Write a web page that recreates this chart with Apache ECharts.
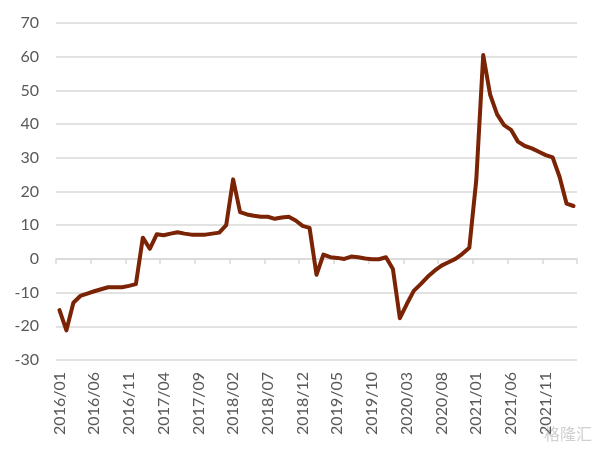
<!DOCTYPE html>
<html>
<head>
<meta charset="utf-8">
<script src="https://cdn.jsdelivr.net/npm/echarts@6/dist/echarts.min.js"></script>
<style>
html,body{margin:0;padding:0;background:#fff;}
#main{width:600px;height:450px;}
</style>
</head>
<body>
<div id="main"></div>
<script>
// Monthly categories 2016/01 .. 2022/03
const categories = [
  "2016/01","2016/02","2016/03","2016/04","2016/05","2016/06","2016/07","2016/08","2016/09","2016/10","2016/11","2016/12",
  "2017/01","2017/02","2017/03","2017/04","2017/05","2017/06","2017/07","2017/08","2017/09","2017/10","2017/11","2017/12",
  "2018/01","2018/02","2018/03","2018/04","2018/05","2018/06","2018/07","2018/08","2018/09","2018/10","2018/11","2018/12",
  "2019/01","2019/02","2019/03","2019/04","2019/05","2019/06","2019/07","2019/08","2019/09","2019/10","2019/11","2019/12",
  "2020/01","2020/02","2020/03","2020/04","2020/05","2020/06","2020/07","2020/08","2020/09","2020/10","2020/11","2020/12",
  "2021/01","2021/02","2021/03","2021/04","2021/05","2021/06","2021/07","2021/08","2021/09","2021/10","2021/11","2021/12",
  "2022/01","2022/02","2022/03"
];
const values = [
  -15.2, -21.2, -13.0, -11.0, -10.3, -9.6, -9.0, -8.4, -8.4, -8.4, -8.0, -7.5,
  6.3, 3.0, 7.3, 7.0, 7.5, 7.9, 7.5, 7.2, 7.2, 7.2, 7.5, 7.8,
  10.0, 23.6, 13.9, 13.2, 12.8, 12.5, 12.5, 11.9, 12.3, 12.5, 11.4, 9.8,
  9.2, -4.7, 1.3, 0.5, 0.3, 0.0, 0.7, 0.5, 0.1, -0.1, -0.1, 0.5,
  -3.0, -17.6, -13.4, -9.5, -7.5, -5.3, -3.5, -2.0, -1.0, 0.0, 1.5, 3.3,
  23.4, 60.5, 48.7, 42.9, 39.7, 38.3, 34.8, 33.5, 32.8, 31.8, 30.8, 30.1,
  24.3, 16.4, 15.7
];
const yMin = -30, yMax = 70, yStep = 10;
const watermark = "格隆汇";

const chart = echarts.init(document.getElementById('main'), null, {renderer: 'canvas'});
const labelFont = 'Lato, "Open Sans", sans-serif';
chart.setOption({
  animation: false,
  backgroundColor: '#ffffff',
  grid: {left: 56, right: 23, top: 23, bottom: 90, containLabel: false},
  xAxis: [
    {
      type: 'category',
      data: categories,
      boundaryGap: true,
      axisLine: {show: true, onZero: true, lineStyle: {color: '#d9d9d9', width: 1.5}},
      axisTick: {show: true, interval: 4, length: 5, lineStyle: {color: '#d9d9d9', width: 1.5}},
      axisLabel: {show: false},
      splitLine: {show: false}
    },
    {
      type: 'category',
      data: categories,
      position: 'bottom',
      boundaryGap: true,
      axisLine: {show: false, onZero: false},
      axisTick: {show: false},
      axisLabel: {
        show: true, interval: 4, rotate: 90, margin: 12,
        fontSize: 16, color: '#595959', fontFamily: labelFont
      },
      splitLine: {show: false}
    }
  ],
  yAxis: {
    type: 'value',
    min: yMin, max: yMax, interval: yStep,
    axisLine: {show: false},
    axisTick: {show: false},
    axisLabel: {fontSize: 16, color: '#595959', margin: 17, fontFamily: labelFont},
    splitLine: {show: true, lineStyle: {color: '#d9d9d9', width: 1.5}}
  },
  series: [{
    type: 'line',
    xAxisIndex: 0,
    data: values,
    symbol: 'none',
    smooth: false,
    lineStyle: {color: '#7b2305', width: 4, join: 'round', cap: 'round'}
  }],
  graphic: [{
    type: 'text',
    right: 8, bottom: 8,
    style: {text: watermark, fill: '#d0d0d0', font: '16px "Noto Sans CJK SC", sans-serif'}
  }]
});
</script>
</body>
</html>
